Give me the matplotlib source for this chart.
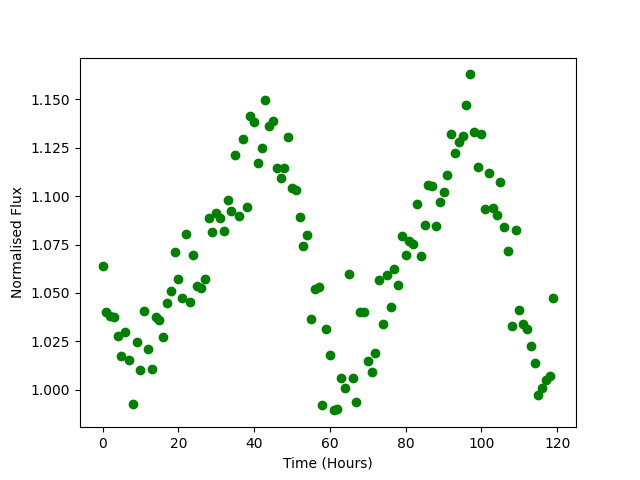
import matplotlib
matplotlib.use('Agg')
import matplotlib.pyplot as plt

# time of each sample (hours)
time = [0, 1, 2, 3, 4, 5, 6, 7, 8, 9,
        10, 11, 12, 13, 14, 15, 16, 17, 18, 19,
        20, 21, 22, 23, 24, 25, 26, 27, 28, 29,
        30, 31, 32, 33, 34, 35, 36, 37, 38, 39,
        40, 41, 42, 43, 44, 45, 46, 47, 48, 49,
        50, 51, 52, 53, 54, 55, 56, 57, 58, 59,
        60, 61, 62, 63, 64, 65, 66, 67, 68, 69,
        70, 71, 72, 73, 74, 75, 76, 77, 78, 79,
        80, 81, 82, 83, 84, 85, 86, 87, 88, 89,
        90, 91, 92, 93, 94, 95, 96, 97, 98, 99,
        100, 101, 102, 103, 104, 105, 106, 107, 108, 109,
        110, 111, 112, 113, 114, 115, 116, 117, 118, 119]

# normalised flux
flux = [1.0639, 1.0402, 1.0381, 1.0373, 1.0277, 1.0174, 1.0297, 1.0155, 0.9928, 1.0247,
        1.0103, 1.0407, 1.0211, 1.0108, 1.0376, 1.0359, 1.0272, 1.0447, 1.0509, 1.0711,
        1.0571, 1.0473, 1.0803, 1.0454, 1.0696, 1.0535, 1.0524, 1.0571, 1.0885, 1.0816,
        1.0912, 1.0885, 1.0818, 1.0978, 1.0921, 1.1215, 1.0895, 1.1297, 1.0942, 1.1412,
        1.1385, 1.1169, 1.1251, 1.1498, 1.1364, 1.1388, 1.1143, 1.1096, 1.1143, 1.1308,
        1.1041, 1.1033, 1.0890, 1.0744, 1.0797, 1.0366, 1.0519, 1.0531, 0.9921, 1.0313,
        1.0179, 0.9893, 0.9900, 1.0060, 1.0009, 1.0596, 1.0060, 0.9937, 1.0401, 1.0401,
        1.0148, 1.0091, 1.0189, 1.0565, 1.0339, 1.0591, 1.0426, 1.0622, 1.0540, 1.0792,
        1.0696, 1.0766, 1.0753, 1.0959, 1.0691, 1.0849, 1.1058, 1.1050, 1.0844, 1.0968,
        1.1022, 1.1107, 1.1323, 1.1225, 1.1282, 1.1313, 1.1473, 1.1629, 1.1330, 1.1153,
        1.1323, 1.0933, 1.1117, 1.0938, 1.0900, 1.1071, 1.0839, 1.0715, 1.0328, 1.0826,
        1.0412, 1.0339, 1.0316, 1.0225, 1.0138, 0.9973, 1.0009, 1.0052, 1.0069, 1.0473]

fig, ax = plt.subplots(figsize=(6.4, 4.8), dpi=100)
ax.plot(time, flux, 'go')
ax.set_xlabel("Time (Hours)")
ax.set_ylabel("Normalised Flux")

fig.savefig("out.png")
